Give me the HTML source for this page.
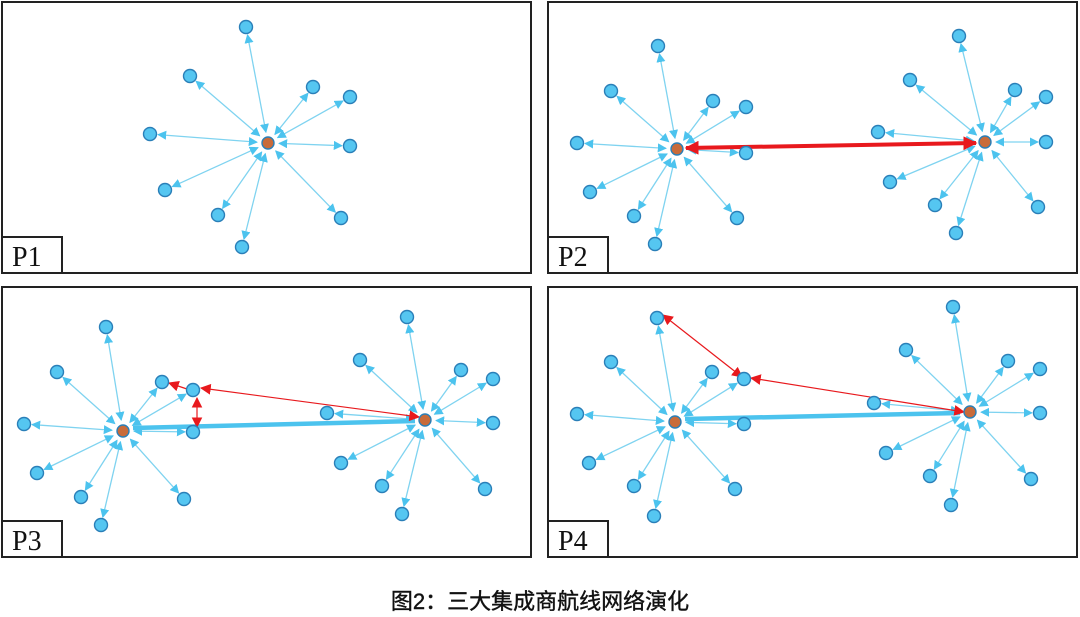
<!DOCTYPE html>
<html><head><meta charset="utf-8"><style>
html,body{margin:0;padding:0;background:#fff;width:1080px;height:617px;overflow:hidden}
svg{display:block}
.cap{font-family:"Liberation Sans","Noto Sans CJK SC",sans-serif}
</style></head><body>
<svg id="s" width="1080" height="617" xmlns="http://www.w3.org/2000/svg">
<defs>
<marker id="ab" viewBox="0 0 10 10" refX="9" refY="5" markerWidth="7" markerHeight="7" orient="auto-start-reverse"><path d="M0,0L10,5L0,10z" fill="#4cc3ee"/></marker>
<marker id="ar" viewBox="0 0 10 10" refX="9" refY="5" markerWidth="9" markerHeight="9" orient="auto-start-reverse"><path d="M0,0L10,5L0,10z" fill="#e8191d"/></marker>
<marker id="ar2" viewBox="0 0 10 10" refX="9" refY="5" markerWidth="3.5" markerHeight="3.5" orient="auto-start-reverse"><path d="M0,0L10,5L0,10z" fill="#e8191d"/></marker>
</defs>
<g id="g"></g>
<rect x="2" y="2" width="529" height="271" fill="none" stroke="#222" stroke-width="2"/>
<rect x="548" y="2" width="529" height="271" fill="none" stroke="#222" stroke-width="2"/>
<rect x="2" y="287" width="529" height="270" fill="none" stroke="#222" stroke-width="2"/>
<rect x="548" y="287" width="529" height="270" fill="none" stroke="#222" stroke-width="2"/>
<g fill="#fff" stroke="#222" stroke-width="2">
<rect x="2" y="237" width="60" height="36"/><rect x="548" y="237" width="60" height="36"/>
<rect x="2" y="521" width="60" height="36"/><rect x="548" y="521" width="60" height="36"/>
</g>
<g font-family="Liberation Serif,serif" font-size="28" fill="#111">
<text x="12" y="266">P1</text><text x="558" y="266">P2</text>
<text x="12" y="550">P3</text><text x="558" y="550">P4</text>
</g>
<text class="cap" x="540" y="609" text-anchor="middle" font-size="22" fill="#111" stroke="#111" stroke-width="0.4">图2：三大集成商航线网络演化</text>
</svg>
<script>
var g=document.getElementById('g'),NS='http://www.w3.org/2000/svg';
function el(t,a){var e=document.createElementNS(NS,t);for(var k in a)e.setAttribute(k,a[k]);g.appendChild(e);return e}
function sh(a,b,d){var dx=b[0]-a[0],dy=b[1]-a[1],L=Math.hypot(dx,dy);return [b[0]-dx/L*d,b[1]-dy/L*d]}
var lines=[],nodes=[],hubs=[];
function star(h,ns){hubs.push(h);ns.forEach(function(n){var p=sh(h,n,8),q=sh(n,h,11);
 lines.push(el('line',{x1:q[0],y1:q[1],x2:p[0],y2:p[1],stroke:'#7fd3f0','stroke-width':1.3,'marker-end':'url(#ab)','marker-start':'url(#ab)'}));nodes.push(n);});}
star([268,143],[[246,27],[190,76],[313,87],[350,97],[150,134],[350,146],[165,190],[218,215],[341,218],[242,247]]);
star([677,149],[[658,46],[611,91],[713,101],[746,107],[577,143],[746,153],[590,192],[634,216],[737,218],[655,244]]);
star([985,142],[[959,36],[910,80],[1015,90],[1046,97],[878,132],[1046,142],[890,182],[935,205],[1038,207],[956,233]]);
star([123,431],[[106,327],[57,372],[162,382],[24,424],[37,473],[81,497],[101,525],[184,499],[193,432],[193,390]]);
star([425,420],[[407,317],[360,360],[461,370],[493,379],[327,413],[493,423],[341,463],[382,486],[485,489],[402,514]]);
star([675,422],[[657,318],[611,362],[712,372],[744,379],[577,414],[744,424],[589,463],[634,486],[735,489],[654,516]]);
star([970,412],[[953,307],[906,350],[1008,361],[1040,369],[874,403],[1040,413],[886,453],[930,476],[1031,479],[951,505]]);
el('line',{x1:686,y1:148,x2:976,y2:143,stroke:'#e8191d','stroke-width':4,'marker-end':'url(#ar2)','marker-start':'url(#ar2)'});
el('line',{x1:133,y1:428,x2:415,y2:421,stroke:'#4cc3ee','stroke-width':4.5});
el('line',{x1:685,y1:419,x2:960,y2:413,stroke:'#4cc3ee','stroke-width':4.5});
el('line',{x1:187,y1:389,x2:169,y2:383,stroke:'#e8191d','stroke-width':1.2,'marker-end':'url(#ar)'});
[[[201,388],[419,417]],[[197,398],[197,427]],[[751,378],[964,412]],[[742,377],[663,315]]].forEach(function(s){
 el('line',{x1:s[0][0],y1:s[0][1],x2:s[1][0],y2:s[1][1],stroke:'#e8191d','stroke-width':1.2,'marker-end':'url(#ar)','marker-start':'url(#ar)'});});
nodes.forEach(function(n){el('circle',{cx:n[0],cy:n[1],r:6.5,fill:'#55c6f1',stroke:'#2a7fb8','stroke-width':1.4})});
hubs.forEach(function(h){el('circle',{cx:h[0],cy:h[1],r:6,fill:'#c96b3a',stroke:'#2a7fb8','stroke-width':1.4})});
</script>
</body></html>
